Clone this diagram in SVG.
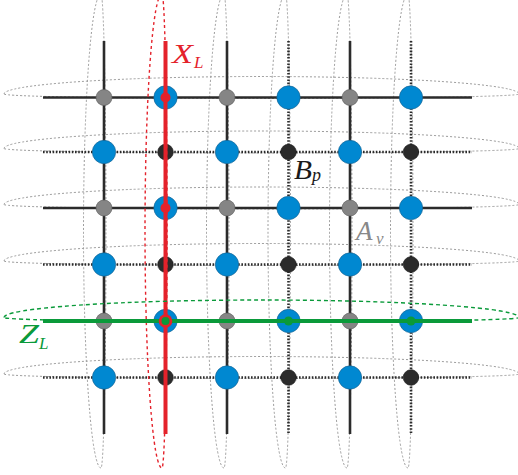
<svg xmlns="http://www.w3.org/2000/svg" width="518" height="475" viewBox="0 0 518 475">
<style>
.ln{stroke:#2b2b2b;stroke-width:2.6;fill:none}
.dt{stroke:#2b2b2b;stroke-width:2.6;stroke-dasharray:1.6 1.6;fill:none}
.ge{stroke:#9a9a9a;stroke-width:1;stroke-dasharray:2 2;fill:none}
.re{stroke:#e4222b;stroke-width:1.4;stroke-dasharray:3 3;fill:none}
.gre{stroke:#0a9a3a;stroke-width:1.4;stroke-dasharray:4 3;fill:none}
.bl{fill:#0088d1;stroke:#1b5f8c;stroke-width:0.6}
.gr{fill:#858585;stroke:#5a5a5a;stroke-width:0.6}
.bk{fill:#2b2b2b;stroke:#1a1a1a;stroke-width:0.6}
.lbl{font-family:"Liberation Serif","DejaVu Serif",serif;font-style:italic}
</style>
<rect width="518" height="475" fill="#ffffff"/>
<g id="cycles">
<path class="ge" d="M101,-6 A17.5 237 0 0 0 101,468 A5 237 0 0 0 101,-6"/>
<path class="ge" d="M224,-6 A17.5 237 0 0 0 224,468 A5 237 0 0 0 224,-6"/>
<path class="ge" d="M285.5,-6 A17.5 237 0 0 0 285.5,468 A5 237 0 0 0 285.5,-6"/>
<path class="ge" d="M347,-6 A17.5 237 0 0 0 347,468 A5 237 0 0 0 347,-6"/>
<path class="ge" d="M408,-6 A17.5 237 0 0 0 408,468 A5 237 0 0 0 408,-6"/>
<path class="ge" d="M4,94 A257.5 17.5 0 0 1 519,94 A257.5 4.5 0 0 1 4,94"/>
<path class="ge" d="M4,148.5 A257.5 17.5 0 0 1 519,148.5 A257.5 4.5 0 0 1 4,148.5"/>
<path class="ge" d="M4,204.5 A257.5 17.5 0 0 1 519,204.5 A257.5 4.5 0 0 1 4,204.5"/>
<path class="ge" d="M4,261 A257.5 17.5 0 0 1 519,261 A257.5 4.5 0 0 1 4,261"/>
<path class="ge" d="M4,374 A257.5 17.5 0 0 1 519,374 A257.5 4.5 0 0 1 4,374"/>
</g>
<g id="edges">
<line class="ln" x1="104" y1="41" x2="104" y2="434"/>
<line class="ln" x1="227" y1="41" x2="227" y2="434"/>
<line class="ln" x1="350" y1="41" x2="350" y2="434"/>
<line class="dt" x1="165.5" y1="41" x2="165.5" y2="434"/>
<line class="dt" x1="288.5" y1="41" x2="288.5" y2="434"/>
<line class="dt" x1="411" y1="41" x2="411" y2="434"/>
<line class="ln" x1="43" y1="97.5" x2="472" y2="97.5"/>
<line class="ln" x1="43" y1="208" x2="472" y2="208"/>
<line class="ln" x1="43" y1="321" x2="472" y2="321"/>
<line class="dt" x1="43" y1="152" x2="472" y2="152"/>
<line class="dt" x1="43" y1="264.5" x2="472" y2="264.5"/>
<line class="dt" x1="43" y1="377.5" x2="472" y2="377.5"/>
</g>
<g id="nodes">
<g id="n00"><circle class="gr" cx="104" cy="97.5" r="8"/></g>
<g id="n10"><circle class="bl" cx="165.5" cy="97.5" r="11.7"/></g>
<g id="n20"><circle class="gr" cx="227" cy="97.5" r="8"/></g>
<g id="n30"><circle class="bl" cx="288.5" cy="97.5" r="11.7"/></g>
<g id="n40"><circle class="gr" cx="350" cy="97.5" r="8"/></g>
<g id="n50"><circle class="bl" cx="411" cy="97.5" r="11.7"/></g>
<g id="n01"><circle class="bl" cx="104" cy="152" r="11.7"/></g>
<g id="n11"><circle class="bk" cx="165.5" cy="152" r="7.8"/></g>
<g id="n21"><circle class="bl" cx="227" cy="152" r="11.7"/></g>
<g id="n31"><circle class="bk" cx="288.5" cy="152" r="7.8"/></g>
<g id="n41"><circle class="bl" cx="350" cy="152" r="11.7"/></g>
<g id="n51"><circle class="bk" cx="411" cy="152" r="7.8"/></g>
<g id="n02"><circle class="gr" cx="104" cy="208" r="8"/></g>
<g id="n12"><circle class="bl" cx="165.5" cy="208" r="11.7"/></g>
<g id="n22"><circle class="gr" cx="227" cy="208" r="8"/></g>
<g id="n32"><circle class="bl" cx="288.5" cy="208" r="11.7"/></g>
<g id="n42"><circle class="gr" cx="350" cy="208" r="8"/></g>
<g id="n52"><circle class="bl" cx="411" cy="208" r="11.7"/></g>
<g id="n03"><circle class="bl" cx="104" cy="264.5" r="11.7"/></g>
<g id="n13"><circle class="bk" cx="165.5" cy="264.5" r="7.8"/></g>
<g id="n23"><circle class="bl" cx="227" cy="264.5" r="11.7"/></g>
<g id="n33"><circle class="bk" cx="288.5" cy="264.5" r="7.8"/></g>
<g id="n43"><circle class="bl" cx="350" cy="264.5" r="11.7"/></g>
<g id="n53"><circle class="bk" cx="411" cy="264.5" r="7.8"/></g>
<g id="n04"><circle class="gr" cx="104" cy="321" r="8"/></g>
<g id="n14"><circle class="bl" cx="165.5" cy="321" r="11.7"/></g>
<g id="n24"><circle class="gr" cx="227" cy="321" r="8"/></g>
<g id="n34"><circle class="bl" cx="288.5" cy="321" r="11.7"/></g>
<g id="n44"><circle class="gr" cx="350" cy="321" r="8"/></g>
<g id="n54"><circle class="bl" cx="411" cy="321" r="11.7"/></g>
<g id="n05"><circle class="bl" cx="104" cy="377.5" r="11.7"/></g>
<g id="n15"><circle class="bk" cx="165.5" cy="377.5" r="7.8"/></g>
<g id="n25"><circle class="bl" cx="227" cy="377.5" r="11.7"/></g>
<g id="n35"><circle class="bk" cx="288.5" cy="377.5" r="7.8"/></g>
<g id="n45"><circle class="bl" cx="350" cy="377.5" r="11.7"/></g>
<g id="n55"><circle class="bk" cx="411" cy="377.5" r="7.8"/></g>
</g>
<g id="XL">
<path class="re" d="M162,-6 A17 237 0 0 0 162,468 A5 237 0 0 0 162,-6"/>
<line x1="165.5" y1="41" x2="165.5" y2="434" stroke="#e4222b" stroke-width="4"/>
<circle cx="165.5" cy="97.5" r="5" fill="#e4222b"/>
<circle cx="165.5" cy="208" r="5" fill="#e4222b"/>
<text class="lbl" x="172" y="63" font-size="27" fill="#e4222b" textLength="21" lengthAdjust="spacingAndGlyphs">X</text>
<text class="lbl" x="194" y="68" font-size="17" fill="#e4222b">L</text>
</g>
<g id="ZL">
<path class="gre" d="M4,317.5 A257.5 17.5 0 0 1 519,317.5 A257.5 4.5 0 0 1 4,317.5"/>
<line x1="43" y1="321" x2="472" y2="321" stroke="#0a9a3a" stroke-width="4"/>
<circle cx="165.5" cy="321" r="6.8" fill="#e4222b"/>
<circle cx="165.5" cy="321" r="4" fill="#0a9a3a"/>
<circle cx="288.5" cy="321" r="4.5" fill="#0a9a3a"/>
<circle cx="411" cy="321" r="4.5" fill="#0a9a3a"/>
<text class="lbl" x="19" y="343" font-size="27" fill="#0a9a3a" textLength="20" lengthAdjust="spacingAndGlyphs">Z</text>
<text class="lbl" x="39" y="349" font-size="17" fill="#0a9a3a">L</text>
</g>
<g id="labels">
<text class="lbl" x="294" y="178.5" font-size="27" fill="#1a1a1a" textLength="18" lengthAdjust="spacingAndGlyphs">B</text>
<text class="lbl" x="312" y="181" font-size="18" fill="#1a1a1a">p</text>
<text class="lbl" x="356" y="240" font-size="27" fill="#888888">A</text>
<text class="lbl" x="376" y="244" font-size="17" fill="#888888">v</text>
</g>
</svg>
